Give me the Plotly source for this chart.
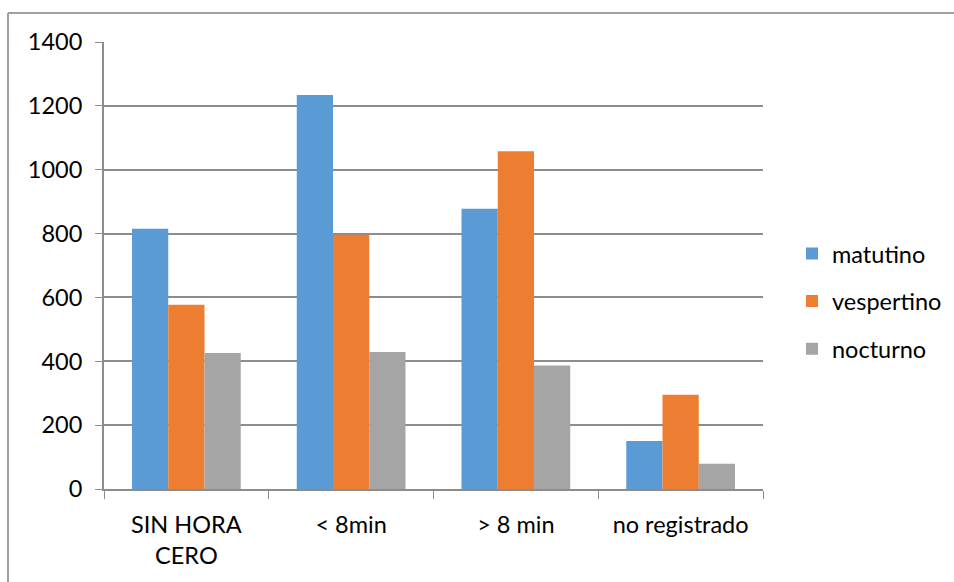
import plotly.graph_objects as go

categories = ["SIN HORA<br>CERO", "< 8min", "> 8 min", "no registrado"]
matutino = [815, 1234, 878, 150]
vespertino = [577, 796, 1058, 295]
nocturno = [426, 429, 387, 79]

series = [
    ("matutino", matutino, "#5B9BD5"),
    ("vespertino", vespertino, "#ED7D31"),
    ("nocturno", nocturno, "#A5A5A5"),
]

fig = go.Figure()
for i, (name, vals, color) in enumerate(series):
    fig.add_trace(go.Bar(
        name=name, x=categories, y=vals,
        marker=dict(color=color, line=dict(width=0)),
        legendgroup=f"g{i}",
    ))

W, H = 954, 582
ml, mr, mt, mb = 104, 191, 42, 93
pw, ph = W - ml - mr, H - mt - mb
font = dict(family="Lato, 'Open Sans', sans-serif", size=23.5, color="#000000")
grid = "#8C8C8C"

fig.update_layout(
    width=W, height=H,
    margin=dict(l=ml, r=mr, t=mt, b=mb, pad=0, autoexpand=False),
    paper_bgcolor="white", plot_bgcolor="white",
    font=font,
    barmode="group", bargap=0.34, bargroupgap=0,
    showlegend=True,
    legend=dict(
        x=(792 - ml) / pw, xanchor="left", y=0.42, yanchor="middle",
        xref="paper",
        traceorder="grouped", tracegroupgap=14,
        font=font, bgcolor="rgba(0,0,0,0)",
        itemclick=False,
    ),
    xaxis=dict(
        type="category", showgrid=False, showline=True, linecolor=grid, linewidth=2,
        ticks="outside", tickson="boundaries", ticklen=8, tickcolor=grid, tickwidth=1,
        tickfont=font, ticklabelstandoff=14,
    ),
    yaxis=dict(
        range=[0, 1400], tick0=0, dtick=200, showgrid=True, gridcolor=grid, gridwidth=2,
        showline=True, linecolor=grid, linewidth=2, zeroline=False,
        ticks="outside", ticklen=7, tickcolor=grid, tickwidth=1,
        tickfont=font, ticklabelstandoff=8,
    ),
    shapes=[
        dict(type="line", xref="paper", yref="paper",
             x0=(8 - ml) / pw, x1=(W + 5 - ml) / pw,
             y0=(H - mb - 13) / ph, y1=(H - mb - 13) / ph,
             line=dict(color="#A0A0A0", width=2)),
        dict(type="line", xref="paper", yref="paper",
             x0=(8 - ml) / pw, x1=(8 - ml) / pw,
             y0=(H - mb - 13) / ph, y1=(H - mb - H - 5) / ph,
             line=dict(color="#A0A0A0", width=2)),
    ],
)

fig.write_html("out.html")
